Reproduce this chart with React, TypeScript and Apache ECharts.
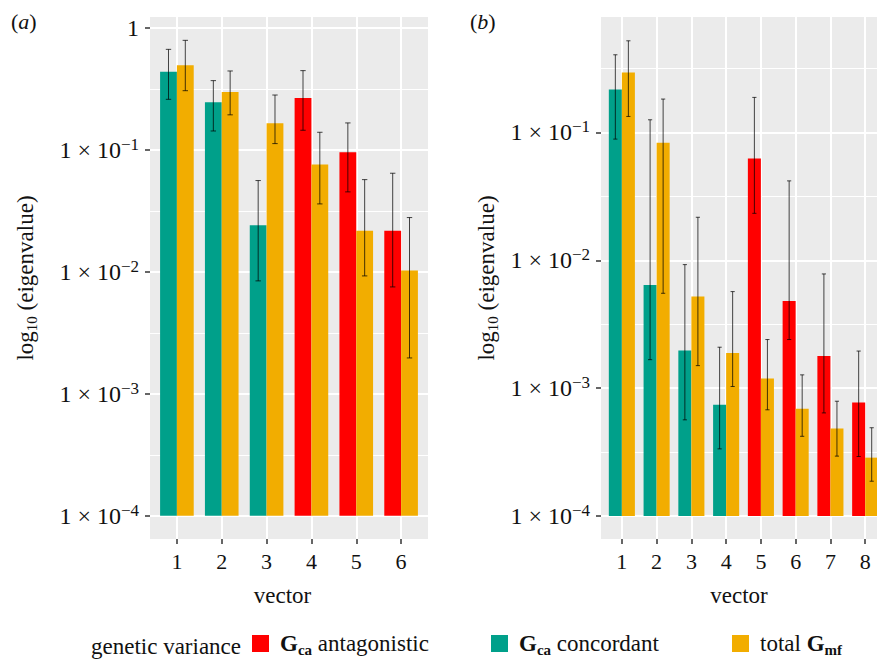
import React, { useEffect, useRef } from 'react';
import * as echarts from 'echarts';

const FONT = "'Liberation Serif', 'Times New Roman', 'DejaVu Serif', serif";
const RED = '#FF0000';
const TEAL = '#00A08A';
const ORANGE = '#F2AD00';
const TEXT = '#111111';
const ERR = 'rgba(0,0,0,0.72)';

const NAME_ANT = 'Gca antagonistic';
const NAME_CON = 'Gca concordant';
const NAME_TOT = 'total Gmf';

// Panel (a)
const vectorsA = [1, 2, 3, 4, 5, 6];
const caTypeA = ['concordant', 'concordant', 'concordant', 'antagonistic', 'antagonistic', 'antagonistic'];
const caA = [0.438, 0.246, 0.0241, 0.267, 0.0958, 0.0217];
const caLoA = [0.26, 0.143, 0.00844, 0.145, 0.0453, 0.00753];
const caHiA = [0.668, 0.37, 0.0561, 0.447, 0.1665, 0.0644];
const mfA = [0.494, 0.299, 0.1655, 0.0758, 0.0217, 0.01025];
const mfLoA = [0.306, 0.194, 0.1127, 0.0361, 0.00927, 0.00197];
const mfHiA = [0.792, 0.444, 0.282, 0.1396, 0.0571, 0.0279];

// Panel (b)
const vectorsB = [1, 2, 3, 4, 5, 6, 7, 8];
const caTypeB = ['concordant', 'concordant', 'concordant', 'concordant', 'antagonistic', 'antagonistic', 'antagonistic', 'antagonistic'];
const caB = [0.217, 0.00641, 0.00197, 0.000741, 0.0625, 0.0048, 0.00178, 0.000773];
const caLoB = [0.0887, 0.00167, 0.000565, 0.000335, 0.0233, 0.0024, 0.00064, 0.000292];
const caHiB = [0.405, 0.1256, 0.00925, 0.00209, 0.188, 0.0418, 0.00782, 0.00195];
const mfB = [0.295, 0.083, 0.0052, 0.00188, 0.00119, 0.00069, 0.000484, 0.000286];
const mfLoB = [0.1334, 0.00552, 0.0015, 0.00103, 0.000677, 0.00042, 0.000294, 0.000187];
const mfHiB = [0.521, 0.1824, 0.0217, 0.00569, 0.0024, 0.00127, 0.00079, 0.00049];

// log10 tick exponents
const yTickExp = [-4, -3, -2, -1, 0];
const yMinorExp = [-3.5, -2.5, -1.5, -0.5];
const BAR_FLOOR_EXP = -4;

const BAR_W = 0.375;
const CAP_W = 0.12;

const rangeA = { xMin: 0.4, xMax: 6.6, yMin: -4.19, yMax: 0.09 };
const rangeB = { xMin: 0.4, xMax: 8.34, yMin: -4.18, yMax: -0.097 };

function renderBar(params: any, api: any) {
  const x = api.value(0);
  const y = api.value(1);
  const lo = api.value(2);
  const hi = api.value(3);
  const p0 = api.coord([x - BAR_W / 2, BAR_FLOOR_EXP]);
  const p1 = api.coord([x + BAR_W / 2, y]);
  const pl = api.coord([x, lo]);
  const ph = api.coord([x, hi]);
  const cl0 = api.coord([x - CAP_W / 2, lo]);
  const cl1 = api.coord([x + CAP_W / 2, lo]);
  const ch0 = api.coord([x - CAP_W / 2, hi]);
  const ch1 = api.coord([x + CAP_W / 2, hi]);
  const errStyle = { stroke: ERR, lineWidth: 1 };
  return {
    type: 'group',
    children: [
      {
        type: 'rect',
        shape: { x: p0[0], y: p1[1], width: p1[0] - p0[0], height: p0[1] - p1[1] },
        style: { fill: api.visual('color') },
      },
      { type: 'line', shape: { x1: pl[0], y1: pl[1], x2: ph[0], y2: ph[1] }, style: errStyle },
      { type: 'line', shape: { x1: cl0[0], y1: cl0[1], x2: cl1[0], y2: cl1[1] }, style: errStyle },
      { type: 'line', shape: { x1: ch0[0], y1: ch0[1], x2: ch1[0], y2: ch1[1] }, style: errStyle },
    ],
  };
}

function panelSeries(
  vectors: number[], types: string[], ca: number[], caLo: number[], caHi: number[],
  mf: number[], mfLo: number[], mfHi: number[], xAxisIndex: number, yAxisIndex: number
) {
  const mk = (type: string) =>
    vectors
      .map((v, i) => ({ v, i }))
      .filter((d) => types[d.i] === type)
      .map((d) => [d.v - BAR_W / 2, Math.log10(ca[d.i]), Math.log10(caLo[d.i]), Math.log10(caHi[d.i])]);
  const tot = vectors.map((v, i) => [v + BAR_W / 2, Math.log10(mf[i]), Math.log10(mfLo[i]), Math.log10(mfHi[i])]);
  const base = {
    type: 'custom',
    renderItem: renderBar,
    xAxisIndex,
    yAxisIndex,
    clip: true,
    encode: { x: 0, y: 1 },
  };
  return [
    { ...base, name: NAME_ANT, itemStyle: { color: RED }, data: mk('antagonistic') },
    { ...base, name: NAME_CON, itemStyle: { color: TEAL }, data: mk('concordant') },
    { ...base, name: NAME_TOT, itemStyle: { color: ORANGE }, data: tot },
  ];
}

const tickStyle = { show: true, length: 5, lineStyle: { color: '#333333', width: 1.5 } };

function xAxisFor(gridIndex: number, vectors: number[], r: any, namePad: number[]) {
  return {
    type: 'value',
    gridIndex,
    min: r.xMin,
    max: r.xMax,
    position: 'bottom',
    axisLine: { show: false, onZero: false },
    axisTick: { ...tickStyle, customValues: vectors },
    axisLabel: {
      customValues: vectors,
      margin: 11,
      fontSize: 22,
      fontFamily: FONT,
      color: TEXT,
      formatter: (v: number) => String(v),
    },
    splitLine: { show: true, lineStyle: { color: '#FFFFFF', width: 2 } },
    name: 'vector',
    nameLocation: 'middle',
    nameGap: 45,
    nameTextStyle: { fontSize: 23, fontFamily: FONT, color: TEXT, padding: namePad },
  };
}

const yLabelRich = {
  m: { fontSize: 24, fontFamily: FONT, color: TEXT, lineHeight: 28, verticalAlign: 'middle' },
  s: { fontSize: 17, fontFamily: FONT, color: TEXT, lineHeight: 19, verticalAlign: 'top' },
};

function yAxesFor(gridIndex: number, r: any, nameGap: number) {
  const majors = yTickExp.filter((e) => e >= r.yMin && e <= r.yMax);
  const minors = yMinorExp.filter((e) => e >= r.yMin && e <= r.yMax);
  return [
    {
      type: 'value',
      gridIndex,
      min: r.yMin,
      max: r.yMax,
      position: 'left',
      axisLine: { show: false, onZero: false },
      axisTick: { ...tickStyle, customValues: majors },
      axisLabel: {
        customValues: majors,
        margin: 11,
        formatter: (v: number) => (Math.abs(v) < 1e-9 ? '{m|1}' : '{m|1 × 10}{s|−' + Math.round(Math.abs(v)) + '}'),
        rich: yLabelRich,
      },
      splitLine: { show: true, lineStyle: { color: '#FFFFFF', width: 2 } },
      name: '{n|log}{s|10}{n| (eigenvalue)}',
      nameLocation: 'middle',
      nameGap,
      nameRotate: 90,
      nameTextStyle: {
        rich: {
          n: { fontSize: 23, fontFamily: FONT, color: TEXT, lineHeight: 28, verticalAlign: 'middle' },
          s: { fontSize: 15, fontFamily: FONT, color: TEXT, lineHeight: 15, verticalAlign: 'bottom' },
        },
      },
    },
    {
      type: 'value',
      gridIndex,
      min: r.yMin,
      max: r.yMax,
      position: 'right',
      axisLine: { show: false, onZero: false },
      axisTick: { show: false, customValues: minors },
      axisLabel: { show: false, customValues: minors },
      splitLine: { show: true, lineStyle: { color: '#FFFFFF', width: 1 } },
    },
  ];
}

const legendRich = {
  b: { fontSize: 23, fontFamily: FONT, fontWeight: 'bold', color: TEXT, lineHeight: 28, verticalAlign: 'middle' },
  s: { fontSize: 15, fontFamily: FONT, fontWeight: 'bold', color: TEXT, lineHeight: 15, verticalAlign: 'bottom' },
  n: { fontSize: 23, fontFamily: FONT, color: TEXT, lineHeight: 28, verticalAlign: 'middle' },
};

const legendLabels: Record<string, string> = {
  [NAME_ANT]: '{b|G}{s|ca}{n| antagonistic}',
  [NAME_CON]: '{b|G}{s|ca}{n| concordant}',
  [NAME_TOT]: '{n|total }{b|G}{s|mf}',
};

const legendPlacement = [
  { name: NAME_ANT, left: 252 },
  { name: NAME_CON, left: 491 },
  { name: NAME_TOT, left: 732 },
];

function buildOption() {
  return {
    animation: false,
    backgroundColor: '#FFFFFF',
    grid: [
      { left: 150, top: 17, width: 278, height: 522, show: true, backgroundColor: '#EBEBEB', borderWidth: 0, containLabel: false },
      { left: 601, top: 17, width: 276, height: 522, show: true, backgroundColor: '#EBEBEB', borderWidth: 0, containLabel: false },
    ],
    xAxis: [xAxisFor(0, vectorsA, rangeA, [0, 13, 0, 0]), xAxisFor(1, vectorsB, rangeB, [0, 0, 0, 0])],
    yAxis: [...yAxesFor(0, rangeA, 111), ...yAxesFor(1, rangeB, 101)],
    legend: legendPlacement.map((l) => ({
      data: [l.name],
      left: l.left,
      top: 632,
      padding: 0,
      icon: 'rect',
      itemWidth: 17,
      itemHeight: 17,
      selectedMode: false,
      formatter: (name: string) => legendLabels[name] || name,
      textStyle: { fontFamily: FONT, fontSize: 23, color: TEXT, padding: [0, 0, 0, 6], rich: legendRich },
    })),
    graphic: [
      {
        type: 'text',
        x: 91,
        y: 646,
        style: { text: 'genetic variance', fontFamily: FONT, fontSize: 23, fill: TEXT, verticalAlign: 'middle' },
      },
      {
        type: 'text',
        x: 11,
        y: 21,
        style: {
          text: '{p|(}{i|a}{p|)}',
          verticalAlign: 'middle',
          rich: {
            p: { fontFamily: FONT, fontSize: 22, fill: TEXT },
            i: { fontFamily: FONT, fontSize: 22, fontStyle: 'italic', fill: TEXT },
          },
        },
      },
      {
        type: 'text',
        x: 470,
        y: 21,
        style: {
          text: '{p|(}{i|b}{p|)}',
          verticalAlign: 'middle',
          rich: {
            p: { fontFamily: FONT, fontSize: 22, fill: TEXT },
            i: { fontFamily: FONT, fontSize: 22, fontStyle: 'italic', fill: TEXT },
          },
        },
      },
    ],
    series: [
      ...panelSeries(vectorsA, caTypeA, caA, caLoA, caHiA, mfA, mfLoA, mfHiA, 0, 0),
      ...panelSeries(vectorsB, caTypeB, caB, caLoB, caHiB, mfB, mfLoB, mfHiB, 1, 2),
    ],
  };
}

export default function App() {
  const ref = useRef<HTMLDivElement>(null);
  useEffect(() => {
    if (!ref.current) return;
    const chart = echarts.init(ref.current, null, { renderer: 'svg' });
    chart.setOption(buildOption() as any);
    return () => {
      chart.dispose();
    };
  }, []);
  return (
    <div
      ref={ref}
      style={{ position: 'fixed', left: 0, top: 0, width: 877, height: 662, background: '#FFFFFF' }}
    />
  );
}
